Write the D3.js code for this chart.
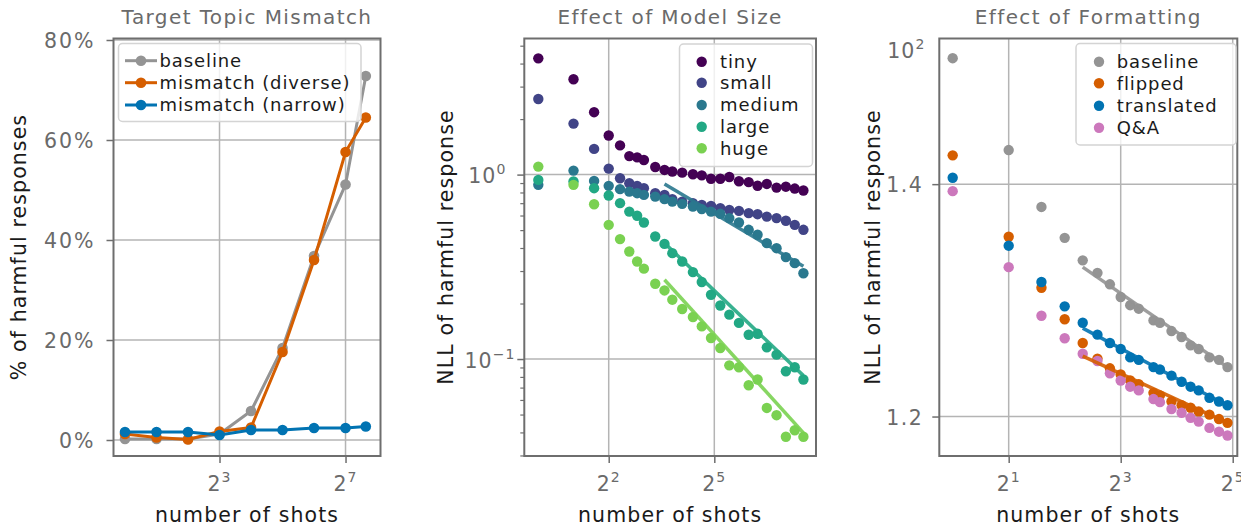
<!DOCTYPE html>
<html><head><meta charset="utf-8">
<script src="https://cdn.jsdelivr.net/npm/d3@7"></script>
<style>
body{margin:0;background:#fff;}
svg text{font-family:"DejaVu Sans",sans-serif;}
</style></head><body>
<svg id="chart" width="1241" height="527"></svg>
<script>
// ---------------- DATA ----------------
// Panel 1: Target Topic Mismatch
const p1Shots = [1, 2, 4, 8, 16, 32, 64, 128, 200];
const p1Baseline = [0.002, 0.002, 0.002, 0.012, 0.058, 0.184, 0.368, 0.511, 0.728];
const p1Diverse  = [0.012, 0.005, 0.001, 0.017, 0.025, 0.176, 0.360, 0.576, 0.645];
const p1Narrow   = [0.016, 0.016, 0.016, 0.010, 0.020, 0.020, 0.024, 0.024, 0.027];
const p1Names = ["baseline", "mismatch (diverse)", "mismatch (narrow)"];
const p1YTicks = [0, 0.2, 0.4, 0.6, 0.8];
const p1XTickExps = [3, 7];

// Panel 2: Effect of Model Size
const p2Shots = [1, 2, 3, 4, 5, 6, 7, 8, 10, 12, 14, 17, 21, 25, 30, 36, 43, 52, 63, 75, 90, 109, 131, 156, 185];
const p2Tiny   = [4.27, 3.29, 2.18, 1.63, 1.44, 1.26, 1.24, 1.20, 1.10, 1.06, 1.04, 1.025, 1.005, 0.99, 0.95, 0.95, 0.97, 0.92, 0.91, 0.87, 0.89, 0.85, 0.86, 0.84, 0.82];
const p2Small  = [2.57, 1.89, 1.378, 1.078, 0.956, 0.898, 0.869, 0.844, 0.793, 0.776, 0.736, 0.714, 0.700, 0.685, 0.677, 0.658, 0.644, 0.636, 0.618, 0.610, 0.592, 0.581, 0.562, 0.534, 0.502];
const p2Medium = [0.880, 1.051, 0.924, 0.869, 0.834, 0.809, 0.793, 0.776, 0.760, 0.736, 0.714, 0.694, 0.671, 0.650, 0.630, 0.613, 0.581, 0.550, 0.502, 0.472, 0.425, 0.399, 0.357, 0.331, 0.292];
const p2Large  = [0.936, 0.917, 0.844, 0.770, 0.700, 0.630, 0.598, 0.550, 0.462, 0.421, 0.375, 0.338, 0.296, 0.2615, 0.223, 0.195, 0.174, 0.157, 0.1355, 0.137, 0.1157, 0.1056, 0.0858, 0.0902, 0.0774];
const p2Huge   = [1.105, 0.880, 0.691, 0.534, 0.447, 0.383, 0.338, 0.309, 0.256, 0.2355, 0.2098, 0.1867, 0.169, 0.1503, 0.130, 0.1148, 0.0924, 0.0902, 0.0721, 0.0774, 0.0543, 0.0496, 0.0379, 0.0411, 0.0379];
const p2Names = ["tiny", "small", "medium", "large", "huge"];
// power-law fit lines (start / end values)
const p2FitShots  = [12, 185];
const p2FitMedium = [0.890, 0.318];
const p2FitLarge  = [0.425, 0.0813];
const p2FitHuge   = [0.269, 0.0398];
const p2XTickExps = [2, 5];
const p2YTickExps = [0, -1];

// Panel 3: Effect of Formatting
const p3Shots = [1, 2, 3, 4, 5, 6, 7, 8, 9, 10, 12, 13, 15, 17, 19, 21, 24, 27, 30];
const p3Baseline   = [1.522, 1.432, 1.379, 1.351, 1.331, 1.320, 1.310, 1.299, 1.292, 1.289, 1.279, 1.277, 1.270, 1.265, 1.258, 1.255, 1.248, 1.246, 1.240];
const p3Flipped    = [1.427, 1.352, 1.307, 1.280, 1.260, 1.247, 1.239, 1.234, 1.229, 1.226, 1.219, 1.217, 1.212, 1.209, 1.207, 1.204, 1.2015, 1.198, 1.195];
const p3Translated = [1.406, 1.344, 1.312, 1.291, 1.277, 1.267, 1.260, 1.255, 1.248, 1.246, 1.240, 1.238, 1.233, 1.228, 1.224, 1.221, 1.215, 1.212, 1.209];
const p3QA         = [1.3935, 1.325, 1.283, 1.264, 1.251, 1.245, 1.235, 1.229, 1.224, 1.221, 1.214, 1.2115, 1.206, 1.203, 1.199, 1.196, 1.191, 1.188, 1.185];
const p3Names = ["baseline", "flipped", "translated", "Q&A"];
const p3FitShots      = [5, 30];
const p3FitBaseline   = [1.325, 1.240];
const p3FitFlipped    = [1.249, 1.195];
const p3FitTranslated = [1.2725, 1.2086];
const p3XTickExps = [1, 3, 5];
const p3YTicks = [1.2, 1.4];
const p3YTopLabel = ["10", "2"];

// ---------------- STYLE ----------------
const C_GRAY = "#949494", C_ORANGE = "#d55e00", C_BLUE = "#0173b2", C_PINK = "#cc78bc";
const VIRIDIS = ["#440154", "#414487", "#2a788e", "#22a884", "#7ad151"];
const FRAME = "#6e6e6e", GRID = "#b4b4b4", TICKTXT = "#6a6a6a", LABEL = "#1a1a1a";
const TOP = 38.5, BOTTOM = 456;

const svg = d3.select("#chart");

function makePanel(id, x0, x1, xDomain, yScale) {
  const g = svg.append("g");
  const x = d3.scaleLog().base(2).domain(xDomain).range([x0, x1]);
  const y = yScale.range([BOTTOM, TOP]);
  svg.append("clipPath").attr("id", "clip" + id)
    .append("rect").attr("x", x0).attr("y", TOP).attr("width", x1 - x0).attr("height", BOTTOM - TOP);
  const gridG = g.append("g");
  const dataG = g.append("g").attr("clip-path", `url(#clip${id})`);
  const axG = g.append("g");
  return {g, gridG, dataG, axG, x, y, x0, x1};
}

function supText(g, x, y, base, exp, anchor) {
  const t = g.append("text").attr("x", x).attr("y", y).attr("text-anchor", anchor)
    .attr("fill", TICKTXT).style("font-size", "20.5px").style("letter-spacing", "1px");
  t.append("tspan").text(base);
  t.append("tspan").attr("dy", -9).style("font-size", "14px").text(exp);
  return t;
}

function frameAndAxes(P, xTickExps) {
  xTickExps.forEach(e => {
    P.gridG.append("line").attr("x1", P.x(2 ** e)).attr("x2", P.x(2 ** e))
      .attr("y1", TOP).attr("y2", BOTTOM).attr("stroke", GRID).attr("stroke-width", 1.5);
  });
  const ax = d3.axisBottom(P.x).tickValues(xTickExps.map(e => 2 ** e)).tickSize(7).tickFormat("");
  const ag = P.axG.append("g").attr("transform", `translate(0,${BOTTOM})`).call(ax);
  ag.select(".domain").remove();
  ag.selectAll("line").attr("stroke", FRAME).attr("stroke-width", 1.5);
  xTickExps.forEach(e => supText(P.axG, P.x(2 ** e), 491, "2", String(e), "middle"));
}

function drawFrame(P) {
  P.g.append("rect").attr("x", P.x0).attr("y", TOP).attr("width", P.x1 - P.x0).attr("height", BOTTOM - TOP)
    .attr("fill", "none").attr("stroke", FRAME).attr("stroke-width", 2);
}

function title(P, txt) {
  svg.append("text").attr("x", (P.x0 + P.x1) / 2).attr("y", 24).attr("text-anchor", "middle")
    .attr("fill", TICKTXT).style("font-size", "20px").style("letter-spacing", "1.4px").text(txt);
  svg.append("text").attr("x", (P.x0 + P.x1) / 2).attr("y", 522).attr("text-anchor", "middle")
    .attr("fill", LABEL).style("font-size", "20.5px").style("letter-spacing", "1.1px").text("number of shots");
}

function yLabel(xb, txt) {
  svg.append("text").attr("transform", `translate(${xb},247) rotate(-90)`).attr("text-anchor", "middle")
    .attr("fill", LABEL).style("font-size", "20.5px").style("letter-spacing", "1.1px").text(txt);
}

function legendBox(x0, y0, x1, y1) {
  svg.append("rect").attr("x", x0).attr("y", y0).attr("width", x1 - x0).attr("height", y1 - y0)
    .attr("rx", 4).attr("fill", "#ffffff").attr("fill-opacity", 0.8)
    .attr("stroke", "#d4d4d4").attr("stroke-width", 1.5);
}
function legendText(x, y, txt) {
  svg.append("text").attr("x", x).attr("y", y).attr("dy", "0.36em").attr("fill", LABEL)
    .style("font-size", "18px").style("letter-spacing", "0.9px").text(txt);
}

// ---------------- PANEL 1 ----------------
{
  const P = makePanel(1, 113.5, 380.5, [2 ** -0.365, 2 ** 8.11], d3.scaleLinear().domain([-0.032, 0.803]));
  p1YTicks.forEach(v => {
    P.gridG.append("line").attr("x1", P.x0).attr("x2", P.x1).attr("y1", P.y(v)).attr("y2", P.y(v))
      .attr("stroke", GRID).attr("stroke-width", 1.5);
  });
  frameAndAxes(P, p1XTickExps);
  const ay = d3.axisLeft(P.y).tickValues(p1YTicks).tickSize(7).tickFormat("");
  const ag = P.axG.append("g").attr("transform", `translate(${P.x0},0)`).call(ay);
  ag.select(".domain").remove();
  ag.selectAll("line").attr("stroke", FRAME).attr("stroke-width", 1.5);
  p1YTicks.forEach(v => {
    P.axG.append("text").attr("x", P.x0 - 18).attr("y", P.y(v) + 7.5).attr("text-anchor", "end")
      .attr("fill", TICKTXT).style("font-size", "20.5px").style("letter-spacing", "2px")
      .text(d3.format(".0%")(v));
  });
  const series = [[p1Baseline, C_GRAY], [p1Diverse, C_ORANGE], [p1Narrow, C_BLUE]];
  const line = d3.line().x(d => P.x(d[0])).y(d => P.y(d[1]));
  series.forEach(([vals, col]) => {
    const pts = p1Shots.map((s, i) => [s, vals[i]]);
    P.dataG.append("path").attr("d", line(pts)).attr("fill", "none").attr("stroke", col).attr("stroke-width", 3);
    P.dataG.selectAll(null).data(pts).enter().append("circle")
      .attr("cx", d => P.x(d[0])).attr("cy", d => P.y(d[1])).attr("r", 5.3).attr("fill", col);
  });
  drawFrame(P);
  title(P, "Target Topic Mismatch");
  yLabel(26, "% of harmful responses");
  legendBox(118.5, 43.5, 361, 121.5);
  const rows = [60.7, 82.7, 105];
  series.forEach(([v, col], i) => {
    svg.append("line").attr("x1", 125).attr("x2", 157).attr("y1", rows[i]).attr("y2", rows[i])
      .attr("stroke", col).attr("stroke-width", 3);
    svg.append("circle").attr("cx", 141).attr("cy", rows[i]).attr("r", 5.3).attr("fill", col);
    legendText(159.5, rows[i], p1Names[i]);
  });
}

// ---------------- PANEL 2 ----------------
{
  const P = makePanel(2, 524.3, 816, [2 ** -0.398, 2 ** 7.889], d3.scaleLog().domain([0.0298, 5.47]));
  p2YTickExps.forEach(e => {
    P.gridG.append("line").attr("x1", P.x0).attr("x2", P.x1).attr("y1", P.y(10 ** e)).attr("y2", P.y(10 ** e))
      .attr("stroke", GRID).attr("stroke-width", 1.5);
  });
  frameAndAxes(P, p2XTickExps);
  const majors = p2YTickExps.map(e => 10 ** e);
  const ay = d3.axisLeft(P.y).tickValues(majors).tickSize(7).tickFormat("");
  const ag = P.axG.append("g").attr("transform", `translate(${P.x0},0)`).call(ay);
  ag.select(".domain").remove();
  ag.selectAll("line").attr("stroke", FRAME).attr("stroke-width", 1.5);
  const minors = P.y.ticks().filter(v => !majors.some(m => Math.abs(m - v) < 1e-9));
  const am = d3.axisLeft(P.y).tickValues(minors).tickSize(4).tickFormat("");
  const agm = P.axG.append("g").attr("transform", `translate(${P.x0},0)`).call(am);
  agm.select(".domain").remove();
  agm.selectAll("line").attr("stroke", FRAME).attr("stroke-width", 1.2);
  p2YTickExps.forEach(e => {
    supText(P.axG, e < 0 ? P.x0 - 9 : P.x0 - 18, P.y(10 ** e) + 8.5, "10", e < 0 ? "\u22121" : String(e), "end");
  });
  const series = [p2Tiny, p2Small, p2Medium, p2Large, p2Huge];
  series.forEach((vals, k) => {
    P.dataG.selectAll(null).data(p2Shots.map((s, i) => [s, vals[i]])).enter().append("circle")
      .attr("cx", d => P.x(d[0])).attr("cy", d => P.y(d[1])).attr("r", 5.2).attr("fill", VIRIDIS[k]);
  });
  const fits = [[p2FitMedium, VIRIDIS[2]], [p2FitLarge, VIRIDIS[3]], [p2FitHuge, VIRIDIS[4]]];
  const line = d3.line().x(d => P.x(d[0])).y(d => P.y(d[1]));
  fits.forEach(([vals, col]) => {
    P.dataG.append("path").attr("d", line(p2FitShots.map((s, i) => [s, vals[i]])))
      .attr("fill", "none").attr("stroke", col).attr("stroke-width", 3.5).attr("stroke-opacity", 0.9);
  });
  drawFrame(P);
  title(P, "Effect of Model Size");
  yLabel(452.5, "NLL of harmful response");
  legendBox(679.5, 44, 812.5, 166.5);
  const rows = [61.7, 82.7, 105, 126.7, 148.3];
  p2Names.forEach((n, i) => {
    svg.append("circle").attr("cx", 701.7).attr("cy", rows[i]).attr("r", 5.2).attr("fill", VIRIDIS[i]);
    legendText(720, rows[i], n);
  });
}

// ---------------- PANEL 3 ----------------
{
  const P = makePanel(3, 939.3, 1237.3, [2 ** -0.239, 2 ** 5.082], d3.scaleLog().domain([1.169, 1.542]));
  p3YTicks.forEach(v => {
    P.gridG.append("line").attr("x1", P.x0).attr("x2", P.x1).attr("y1", P.y(v)).attr("y2", P.y(v))
      .attr("stroke", GRID).attr("stroke-width", 1.5);
  });
  frameAndAxes(P, p3XTickExps);
  const ay = d3.axisLeft(P.y).tickValues(p3YTicks).tickSize(7).tickFormat("");
  const ag = P.axG.append("g").attr("transform", `translate(${P.x0},0)`).call(ay);
  ag.select(".domain").remove();
  ag.selectAll("line").attr("stroke", FRAME).attr("stroke-width", 1.5);
  p3YTicks.forEach(v => {
    P.axG.append("text").attr("x", P.x0 - 16).attr("y", P.y(v) + 8).attr("text-anchor", "end")
      .attr("fill", TICKTXT).style("font-size", "20.5px").style("letter-spacing", "1.5px").text(d3.format(".1f")(v));
  });
  supText(P.axG, P.x0 - 14, 57.5, p3YTopLabel[0], p3YTopLabel[1], "end");
  const series = [[p3Baseline, C_GRAY], [p3Flipped, C_ORANGE], [p3Translated, C_BLUE], [p3QA, C_PINK]];
  series.forEach(([vals, col]) => {
    P.dataG.selectAll(null).data(p3Shots.map((s, i) => [s, vals[i]])).enter().append("circle")
      .attr("cx", d => P.x(d[0])).attr("cy", d => P.y(d[1])).attr("r", 5.2).attr("fill", col);
  });
  const fits = [[p3FitBaseline, C_GRAY], [p3FitFlipped, C_ORANGE], [p3FitTranslated, C_BLUE]];
  const line = d3.line().x(d => P.x(d[0])).y(d => P.y(d[1]));
  fits.forEach(([vals, col]) => {
    P.dataG.append("path").attr("d", line(p3FitShots.map((s, i) => [s, vals[i]])))
      .attr("fill", "none").attr("stroke", col).attr("stroke-width", 3.5).attr("stroke-opacity", 0.9);
  });
  drawFrame(P);
  title(P, "Effect of Formatting");
  yLabel(880, "NLL of harmful response");
  legendBox(1076, 43.5, 1236, 145);
  const rows = [61.7, 83.3, 105.7, 127.7];
  series.forEach(([v, col], i) => {
    svg.append("circle").attr("cx", 1099).attr("cy", rows[i]).attr("r", 5.2).attr("fill", col);
    legendText(1116.7, rows[i], p3Names[i]);
  });
}
</script>
</body></html>
